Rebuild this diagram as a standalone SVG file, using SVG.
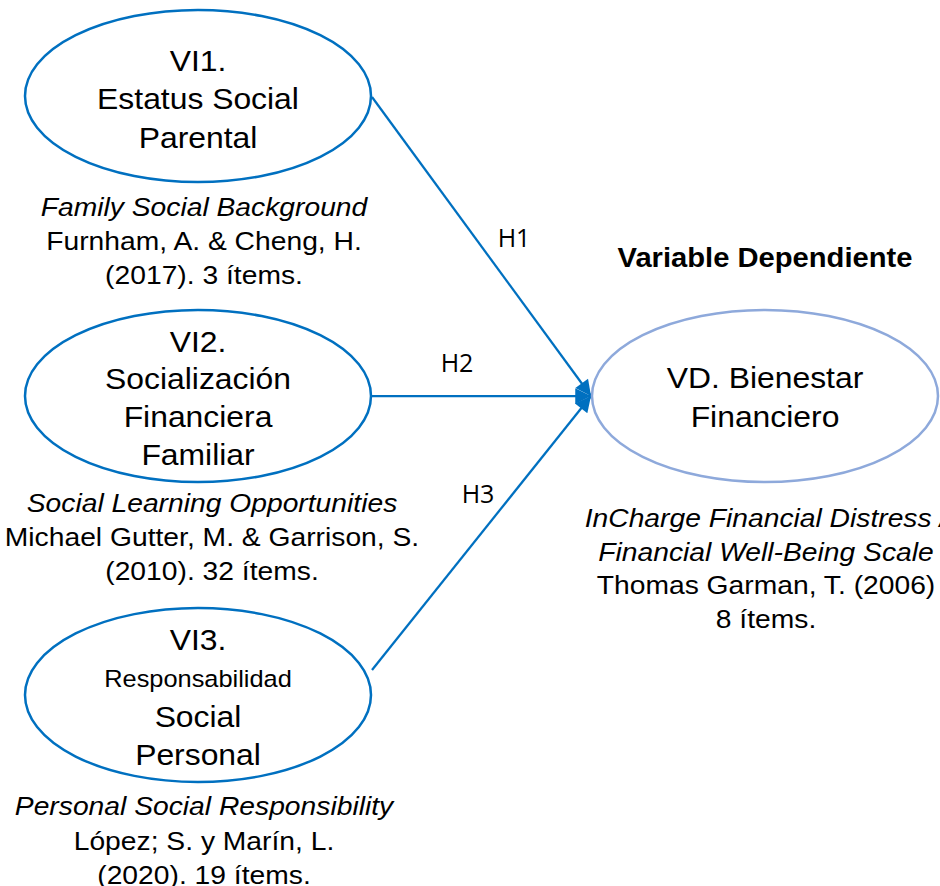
<svg xmlns="http://www.w3.org/2000/svg" width="940" height="886" viewBox="0 0 940 886">
<style>
  .bg { fill: #ffffff; }
  .vi { fill: #ffffff; stroke: #0070C0; stroke-width: 2.5; }
  .vd { fill: #ffffff; stroke: #8EA9DB; stroke-width: 2.5; }
  .t { font-family: "Liberation Sans", Arial, sans-serif; fill: #000000; text-anchor: middle; }
  .big { font-size: 29.5px; }
  .mid { font-size: 23.5px; }
  .cap { font-size: 25.8px; }
  .it { font-style: italic; }
  .bold { font-size: 27px; font-weight: bold; }
  .h { font-family: "Open Sans", "Liberation Sans", sans-serif; font-size: 25px; fill: #000000; text-anchor: middle; }
  .conn { stroke: #0070C0; stroke-width: 2.25; fill: none; marker-end: url(#arrow); }
</style>
<defs>
  <marker id="arrow" viewBox="0 0 10 10" refX="10" refY="5" markerWidth="8" markerHeight="7" orient="auto" markerUnits="strokeWidth">
    <path d="M0,0 L10,5 L0,10 Z" fill="#0070C0"/>
  </marker>
</defs>
<rect class="bg" x="0" y="0" width="940" height="886"/>

<g id="connectors">
  <line class="conn" x1="372" y1="97" x2="591" y2="396"/>
  <line class="conn" x1="372" y1="396" x2="591" y2="396"/>
  <line class="conn" x1="372" y1="670" x2="591" y2="396"/>
  <text class="h" x="514" y="247">H1</text>
  <text class="h" x="457" y="372">H2</text>
  <text class="h" x="478" y="503">H3</text>
</g>

<g id="vi1">
  <ellipse class="vi" cx="198" cy="96" rx="173" ry="86"/>
  <g transform="translate(198 0) scale(1.08 1)">
    <text class="t big" x="0" y="71">VI1.</text>
    <text class="t big" x="0" y="109">Estatus Social</text>
    <text class="t big" x="0" y="148">Parental</text>
  </g>
  <g transform="translate(204 0) scale(1.095 1)">
    <text class="t cap it" x="0" y="216">Family Social Background</text>
    <text class="t cap" x="0" y="250">Furnham, A. &amp; Cheng, H.</text>
    <text class="t cap" x="0" y="284">(2017). 3 ítems.</text>
  </g>
</g>

<g id="vi2">
  <ellipse class="vi" cx="198" cy="396" rx="173" ry="86"/>
  <g transform="translate(198 0) scale(1.08 1)">
    <text class="t big" x="0" y="352">VI2.</text>
    <text class="t big" x="0" y="389">Socialización</text>
    <text class="t big" x="0" y="427">Financiera</text>
    <text class="t big" x="0" y="465">Familiar</text>
  </g>
  <g transform="translate(212 0) scale(1.095 1)">
    <text class="t cap it" x="0" y="512">Social Learning Opportunities</text>
    <text class="t cap" x="0" y="546">Michael Gutter, M. &amp; Garrison, S.</text>
    <text class="t cap" x="0" y="580">(2010). 32 ítems.</text>
  </g>
</g>

<g id="vi3">
  <ellipse class="vi" cx="198" cy="695" rx="173" ry="87"/>
  <g transform="translate(198 0) scale(1.08 1)">
    <text class="t big" x="0" y="650">VI3.</text>
    <text class="t mid" x="0" y="687">Responsabilidad</text>
    <text class="t big" x="0" y="727">Social</text>
    <text class="t big" x="0" y="765">Personal</text>
  </g>
  <g transform="translate(204 0) scale(1.095 1)">
    <text class="t cap it" x="0" y="815">Personal Social Responsibility</text>
    <text class="t cap" x="0" y="850">López; S. y Marín, L.</text>
    <text class="t cap" x="0" y="884">(2020). 19 ítems.</text>
  </g>
</g>

<g id="vd">
  <ellipse class="vd" cx="765" cy="396" rx="173" ry="86"/>
  <g transform="translate(765 0) scale(1.08 1)">
    <text class="t bold" x="0" y="267">Variable Dependiente</text>
    <text class="t big" x="0" y="388">VD. Bienestar</text>
    <text class="t big" x="0" y="427">Financiero</text>
  </g>
  <g transform="translate(766 0) scale(1.095 1)">
    <text class="t cap it" x="0" y="527">InCharge Financial Distress /</text>
    <text class="t cap it" x="0" y="561">Financial Well-Being Scale</text>
    <text class="t cap" x="0" y="594">Thomas Garman, T. (2006)</text>
    <text class="t cap" x="0" y="628">8 ítems.</text>
  </g>
</g>
</svg>
